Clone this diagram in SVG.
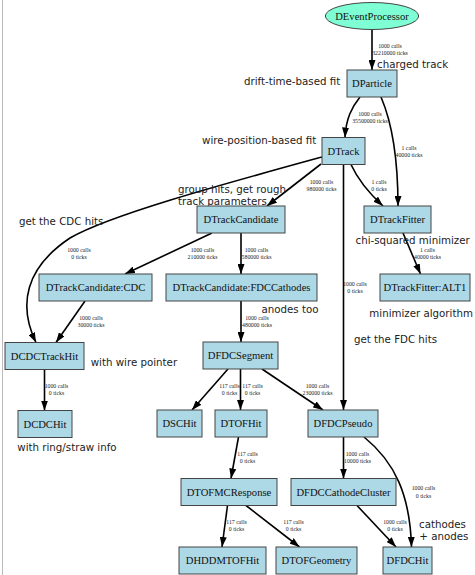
<svg xmlns="http://www.w3.org/2000/svg" width="475" height="575" viewBox="0 0 475 575">
<style>
.n rect{fill:#add8e6;stroke:#444;stroke-width:1}
.n ellipse{fill:#7fffd4;stroke:#444;stroke-width:1}
.n text{font-family:"Liberation Serif",serif;font-size:10.6px;fill:#111;text-anchor:middle}
.e path{fill:none;stroke:#000;stroke-width:1.6;marker-end:url(#ah)}
.el{font-family:"Liberation Serif",serif;font-size:5.8px;fill:#222;text-anchor:middle}
.an{font-family:"DejaVu Sans",sans-serif;font-size:10.25px;fill:#222}
</style>
<defs>
<marker id="ah" markerUnits="userSpaceOnUse" markerWidth="10" markerHeight="7" refX="10" refY="3.5" orient="auto">
<path d="M0,0 L10,3.5 L0,7 z" fill="#000"/>
</marker>
</defs>
<rect width="475" height="575" fill="#fff"/>
<line x1="2.5" y1="0" x2="2.5" y2="575" stroke="#bbb" stroke-width="1"/>

<g id="connectors" class="e">
<path d="M372,29.5 L372,70"/>
<path d="M360,97 C352,107 346,118 345,137.5"/>
<path d="M381,97 C393,125 398,165 398,206"/>
<path d="M351,164.5 C358,180 370,194 383,206"/>
<path d="M321,164 L267,206"/>
<path d="M322,157 C220,185 110,215 70,238 C25,268 18,305 36,342.5"/>
<path d="M343.5,164.5 L343.5,410"/>
<path d="M212,233 L125,274"/>
<path d="M241,233 L241,274"/>
<path d="M403,233 L420.5,274"/>
<path d="M85,301 L56,342.5"/>
<path d="M241,301 L241,342"/>
<path d="M44.5,369.5 L44.5,410.5"/>
<path d="M228,369 L192,410"/>
<path d="M240.5,369 L240.5,410"/>
<path d="M262,369 L323,410"/>
<path d="M238.5,437 L231,478.5"/>
<path d="M343.5,437 L343.5,478.5"/>
<path d="M364,437 C395,462 410,495 411.5,547"/>
<path d="M227.5,505.5 L222,547"/>
<path d="M246,505.5 L299.5,547"/>
<path d="M357,505.5 L396,547"/>
</g>

<g id="edge-labels">
<text class="el" x="390" y="47.5">1000 calls</text><text class="el" x="390" y="54.5">32210000 ticks</text>
<text class="el" x="370" y="115.5">1000 calls</text><text class="el" x="370" y="122.5">35500000 ticks</text>
<text class="el" x="409" y="150">1 calls</text><text class="el" x="409" y="157">40000 ticks</text>
<text class="el" x="379" y="183.5">1 calls</text><text class="el" x="379" y="190.5">0 ticks</text>
<text class="el" x="321.5" y="183.5">1000 calls</text><text class="el" x="321.5" y="190.5">980000 ticks</text>
<text class="el" x="355" y="286">1000 calls</text><text class="el" x="355" y="293">0 ticks</text>
<text class="el" x="79" y="252">1000 calls</text><text class="el" x="79" y="259">0 ticks</text>
<text class="el" x="202.5" y="252">1000 calls</text><text class="el" x="202.5" y="259">210000 ticks</text>
<text class="el" x="256.5" y="252">1000 calls</text><text class="el" x="256.5" y="259">580000 ticks</text>
<text class="el" x="427.5" y="252">1 calls</text><text class="el" x="427.5" y="259">40000 ticks</text>
<text class="el" x="91" y="320">1000 calls</text><text class="el" x="91" y="327">30000 ticks</text>
<text class="el" x="257" y="320">1000 calls</text><text class="el" x="257" y="327">480000 ticks</text>
<text class="el" x="56.5" y="388">1000 calls</text><text class="el" x="56.5" y="395">0 ticks</text>
<text class="el" x="229.5" y="388">117 calls</text><text class="el" x="229.5" y="395">0 ticks</text>
<text class="el" x="252.5" y="388">117 calls</text><text class="el" x="252.5" y="395">0 ticks</text>
<text class="el" x="317.5" y="388">1000 calls</text><text class="el" x="317.5" y="395">230000 ticks</text>
<text class="el" x="247.5" y="456">117 calls</text><text class="el" x="247.5" y="463">0 ticks</text>
<text class="el" x="357.5" y="456">1000 calls</text><text class="el" x="357.5" y="463">10000 ticks</text>
<text class="el" x="423.5" y="490">1000 calls</text><text class="el" x="423.5" y="497.5">0 ticks</text>
<text class="el" x="236.5" y="524">117 calls</text><text class="el" x="236.5" y="531">0 ticks</text>
<text class="el" x="293.5" y="524">117 calls</text><text class="el" x="293.5" y="531">0 ticks</text>
<text class="el" x="395" y="524">1000 calls</text><text class="el" x="395" y="531">0 ticks</text>
</g>

<g id="annotations">
<text class="an" x="377" y="67.5">charged track</text>
<text class="an" x="244" y="85">drift-time-based fit</text>
<text class="an" x="202" y="144">wire-position-based fit</text>
<text class="an" x="178" y="192.5">group hits, get rough</text>
<text class="an" x="178" y="204.5">track parameters</text>
<text class="an" x="19" y="224.5">get the CDC hits</text>
<text class="an" x="355.5" y="244.3">chi-squared minimizer</text>
<text class="an" x="261.5" y="313">anodes too</text>
<text class="an" x="369.3" y="317">minimizer algorithm</text>
<text class="an" x="354" y="342.5">get the FDC hits</text>
<text class="an" x="90.7" y="366">with wire pointer</text>
<text class="an" x="17.3" y="450.5">with ring/straw info</text>
<text class="an" x="419" y="527.5">cathodes</text>
<text class="an" x="419.3" y="540">+ anodes</text>
</g>

<g id="DEventProcessor" class="n"><ellipse cx="372" cy="16" rx="46.7" ry="13.5"/><text x="372" y="19.6">DEventProcessor</text></g>
<g id="DParticle" class="n"><rect x="347" y="70" width="50" height="27"/><text x="372" y="87">DParticle</text></g>
<g id="DTrack" class="n"><rect x="322" y="137.5" width="43" height="27"/><text x="343.5" y="154.5">DTrack</text></g>
<g id="DTrackCandidate" class="n"><rect x="197" y="206" width="88" height="27"/><text x="241" y="223">DTrackCandidate</text></g>
<g id="DTrackFitter" class="n"><rect x="364" y="206" width="67" height="27"/><text x="397.5" y="223">DTrackFitter</text></g>
<g id="DTrackCandidate_CDC" class="n"><rect x="39" y="274" width="113" height="27"/><text x="95.5" y="291">DTrackCandidate:CDC</text></g>
<g id="DTrackCandidate_FDCCathodes" class="n"><rect x="166" y="274" width="151" height="27"/><text x="241.5" y="291">DTrackCandidate:FDCCathodes</text></g>
<g id="DTrackFitter_ALT1" class="n"><rect x="380" y="274" width="90" height="27"/><text x="425" y="291">DTrackFitter:ALT1</text></g>
<g id="DCDCTrackHit" class="n"><rect x="5" y="342.5" width="79" height="27"/><text x="44.5" y="359.5">DCDCTrackHit</text></g>
<g id="DFDCSegment" class="n"><rect x="203" y="342" width="75" height="27"/><text x="240.5" y="359">DFDCSegment</text></g>
<g id="DCDCHit" class="n"><rect x="18" y="410.5" width="54" height="27"/><text x="45" y="427.5">DCDCHit</text></g>
<g id="DSCHit" class="n"><rect x="157" y="410" width="45" height="27"/><text x="179.5" y="427">DSCHit</text></g>
<g id="DTOFHit" class="n"><rect x="215" y="410" width="52" height="27"/><text x="241" y="427">DTOFHit</text></g>
<g id="DFDCPseudo" class="n"><rect x="308" y="410" width="70" height="27"/><text x="343" y="427">DFDCPseudo</text></g>
<g id="DTOFMCResponse" class="n"><rect x="181" y="478.5" width="96" height="27"/><text x="229" y="495.5">DTOFMCResponse</text></g>
<g id="DFDCCathodeCluster" class="n"><rect x="291" y="478.5" width="105" height="27"/><text x="343.5" y="495.5">DFDCCathodeCluster</text></g>
<g id="DHDDMTOFHit" class="n"><rect x="179" y="547" width="87" height="27"/><text x="222.5" y="564">DHDDMTOFHit</text></g>
<g id="DTOFGeometry" class="n"><rect x="276" y="547" width="81" height="27"/><text x="316.5" y="564">DTOFGeometry</text></g>
<g id="DFDCHit" class="n"><rect x="383" y="547" width="49" height="27"/><text x="407.5" y="564">DFDCHit</text></g>
</svg>
